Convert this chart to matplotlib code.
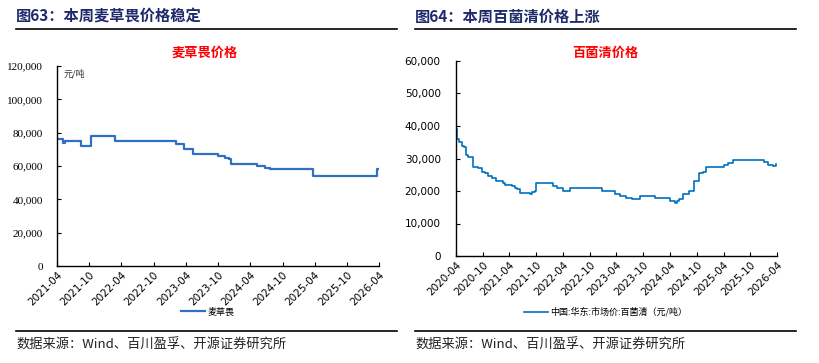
import numpy as np
import pandas as pd
import matplotlib
matplotlib.use("Agg")
import matplotlib.pyplot as plt
import matplotlib.dates as mdates
from matplotlib.ticker import FuncFormatter, MultipleLocator

plt.rcParams['font.family'] = ['Noto Sans CJK SC', 'DejaVu Sans']

# 麦草畏 price change points (元/吨)
dicamba_dates = ['2021-04-01', '2021-05-05', '2021-05-18', '2021-08-15', '2021-10-10',
                 '2022-02-25', '2023-02-03', '2023-03-25', '2023-05-15', '2023-10-01',
                 '2023-11-10', '2023-12-05', '2023-12-15', '2024-05-07', '2024-06-22',
                 '2024-07-22', '2025-03-22', '2026-03-22', '2026-03-28']
dicamba_vals = [76000, 74000, 75000, 72000, 78000,
                75000, 73000, 70000, 67000, 66000,
                65000, 64000, 61500, 60000, 59000,
                58000, 54000, 58000, 58000]

# 百菌清 price change points (元/吨)
chloro_dates = ['2020-04-01', '2020-04-10', '2020-04-22', '2020-05-13', '2020-05-27',
                '2020-06-08', '2020-06-23', '2020-07-23', '2020-09-01', '2020-09-23',
                '2020-10-15', '2020-11-07', '2020-12-04', '2020-12-29', '2021-02-18',
                '2021-03-01', '2021-04-15', '2021-05-07', '2021-05-22', '2021-06-10',
                '2021-08-18', '2021-09-03', '2021-09-21', '2021-10-02', '2022-01-20',
                '2022-02-17', '2022-04-01', '2022-05-21', '2022-12-23', '2023-03-25',
                '2023-04-22', '2023-06-07', '2023-07-15', '2023-09-06', '2023-12-22',
                '2024-04-04', '2024-05-08', '2024-05-19', '2024-06-04', '2024-07-01',
                '2024-08-06', '2024-09-10', '2024-10-18', '2024-11-10', '2024-12-03',
                '2025-04-01', '2025-04-29', '2025-06-08', '2025-12-31', '2026-02-01',
                '2026-03-07', '2026-03-25', '2026-03-28']
chloro_vals = [39000, 36000, 35000, 34000, 33500,
               31000, 30500, 27500, 27000, 26000,
               25500, 24500, 24000, 23000, 22500,
               22000, 21500, 21000, 20500, 19500,
               19200, 19700, 20000, 22500, 21500,
               21000, 20000, 21000, 20000, 19000,
               18500, 18000, 17500, 18500, 18000,
               16800, 16200, 17000, 17500, 19000,
               20000, 23000, 25500, 26000, 27500,
               28000, 28500, 29500, 29000, 28000,
               27800, 28200, 28200]

W, H = 819, 363
fig = plt.figure(figsize=(W / 100, H / 100), dpi=100)

def box(x0, y0, x1, y1):
    # pixel box -> figure fraction
    return [x0 / W, 1 - y1 / H, (x1 - x0) / W, (y1 - y0) / H]

navy = '#1F2A6B'
thousands = FuncFormatter(lambda v, p: f'{int(v):,}')

def header(x0, x1, fig_title, chart_title, cx):
    fig.text(x0 / W, 1 - 17 / H, fig_title, fontsize=11, fontweight='bold',
             color=navy, va='center', ha='left')
    fig.add_artist(plt.Line2D([x0 / W, x1 / W], [1 - 29 / H, 1 - 29 / H],
                              color='black', lw=1.2))
    fig.text(cx / W, 1 - 53 / H, chart_title, fontsize=9.5, fontweight='bold',
             color='#FF0000', va='center', ha='center')
    fig.add_artist(plt.Line2D([x0 / W, x1 / W], [1 - 331 / H, 1 - 331 / H],
                              color='black', lw=1.2))
    fig.text(x0 / W, 1 - 345 / H, '数据来源：Wind、百川盈孚、开源证券研究所',
             fontsize=9.5, color='#222222', va='center', ha='left')

def style_axes(ax, start, end, ymax, step, yfont):
    for s in ['top', 'right']:
        ax.spines[s].set_visible(False)
    for s in ['left', 'bottom']:
        ax.spines[s].set_color('black')
        ax.spines[s].set_linewidth(1.0)
    ax.set_xlim(pd.Timestamp(start), pd.Timestamp(end))
    ax.set_ylim(0, ymax)
    ax.yaxis.set_major_locator(MultipleLocator(step))
    ax.yaxis.set_major_formatter(thousands)
    ax.xaxis.set_major_locator(mdates.MonthLocator(bymonth=[4, 10]))
    ax.xaxis.set_major_formatter(mdates.DateFormatter('%Y-%m'))
    ax.tick_params(axis='both', direction='in', length=3, width=0.8, color='black')
    ax.tick_params(axis='y', pad=10, labelsize=8)
    ax.tick_params(axis='x', pad=3, labelsize=7.5)
    for lab in ax.get_yticklabels():
        lab.set_family(yfont)
    for lab in ax.get_xticklabels():
        lab.set_rotation(45)
        lab.set_ha('right')
        lab.set_rotation_mode('anchor')
        lab.set_family('DejaVu Sans')

# left chart: 麦草畏
header(16, 397, '图63：本周麦草畏价格稳定', '麦草畏价格', 205)
ax1 = fig.add_axes(box(57, 66, 379, 266))
ax1.step(pd.to_datetime(dicamba_dates), dicamba_vals, where='post',
         color='#3070C4', lw=1.6, label='麦草畏')
style_axes(ax1, '2021-04-01', '2026-04-01', 120000, 20000, 'Liberation Serif')
ax1.text(0.02, 0.985, '元/吨', transform=ax1.transAxes, fontsize=6.5,
         style='italic', color='#333333', va='top', ha='left')
leg1 = fig.legend(handles=ax1.get_lines(), loc='center', bbox_to_anchor=(208 / W, 1 - 312 / H),
                  frameon=False, fontsize=6.5, handlelength=2.6, handletextpad=0.3)

# right chart: 百菌清
header(415, 796, '图64：本周百菌清价格上涨', '百菌清价格', 605)
ax2 = fig.add_axes(box(456, 61, 777, 256))
ax2.step(pd.to_datetime(chloro_dates), chloro_vals, where='post',
         color='#0070C0', lw=1.2, label='中国:华东:市场价:百菌清（元/吨）')
style_axes(ax2, '2020-04-01', '2026-04-01', 60000, 10000, 'DejaVu Sans')
ax2.tick_params(axis='y', pad=11, labelsize=7.5)
leg2 = fig.legend(handles=ax2.get_lines(), loc='center', bbox_to_anchor=(606 / W, 1 - 312 / H),
                  frameon=False, fontsize=6.5, handlelength=2.6, handletextpad=0.3)

fig.savefig('out.png', dpi=100)
